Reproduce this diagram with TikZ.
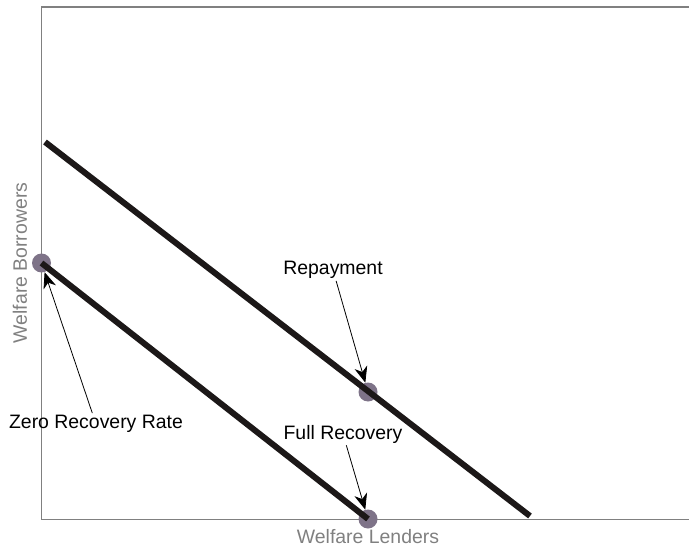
\documentclass[tikz,border=0pt]{standalone}
\usepackage{fontspec}
\setmainfont{Liberation Sans}
\usepackage{tikz}
\usetikzlibrary{arrows.meta,positioning}
\usepackage{xcolor}
\definecolor{axgray}{RGB}{128,128,128}
\definecolor{dotgray}{RGB}{126,115,136}
\definecolor{budget}{RGB}{28,24,24}
\tikzstyle{frontier} = [line width=6bp,color=budget]
\tikzstyle{pointer} = [line width=0.8bp,-{Stealth[length=16bp,width=13bp,inset=5bp]},color=black]
\tikzstyle{eqpoint} = [circle,fill=dotgray,inner sep=0pt,minimum size=19bp]
\tikzstyle{lbl} = [font=\fontsize{19.5}{22}\selectfont,inner sep=2bp]

\begin{document}
\begin{tikzpicture}[x=1bp,y=-1bp]
\useasboundingbox (0,0) rectangle (689,547);
% Axes
\draw[axgray,line width=1.4bp] (689,7) -- (41.5,7) -- (41.5,519.5) -- (689,519.5);
\node[lbl,text=axgray] (xlab) at (368,537) {Welfare Lenders};
\node[lbl,text=axgray,rotate=90] (ylab) at (20,263) {Welfare Borrowers};

% Equilibrium points
\node[eqpoint] (zero) at (41.5,263) {};
\node[eqpoint] (repay) at (368,392) {};
\node[eqpoint] (full) at (368,519) {};

% Frontiers
\coordinate (hitop) at (45,142);
\coordinate (hibot) at (530,516);
\draw[frontier] (hitop) -- (hibot);
\draw[frontier] (zero.center) -- (full.center);

% Labels
\node[lbl] (replbl) at (333,270) {Repayment};
\node[lbl] (zerolbl) at (96,424) {Zero Recovery Rate};
\node[lbl] (fulllbl) at (343,434) {Full Recovery};

\draw[pointer] (replbl) -- (repay);
\draw[pointer] (zerolbl) -- (zero);
\draw[pointer] (fulllbl) -- (full);
\end{tikzpicture}
\end{document}
